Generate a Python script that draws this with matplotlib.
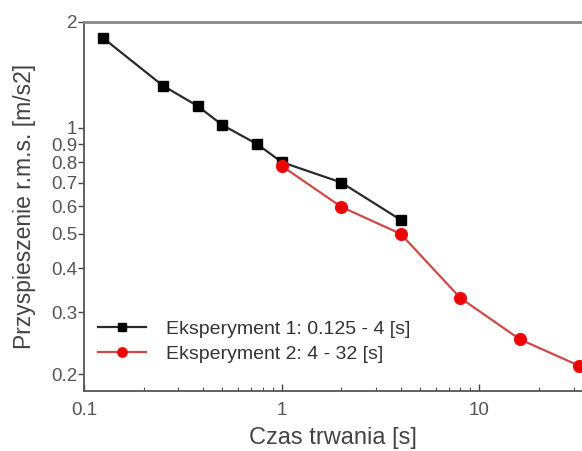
import matplotlib
matplotlib.use("Agg")
import matplotlib.pyplot as plt
from matplotlib.ticker import FixedLocator, FixedFormatter, NullFormatter, LogLocator

# Experiment 1: durations 0.125 - 4 s
t1 = [0.125, 0.25, 0.375, 0.5, 0.75, 1, 2, 4]
a1 = [1.80, 1.32, 1.155, 1.02, 0.90, 0.80, 0.70, 0.548]

# Experiment 2: durations 1 - 32 s
t2 = [1, 2, 4, 8, 16, 32]
a2 = [0.78, 0.597, 0.50, 0.329, 0.251, 0.211]

label1 = "Eksperyment 1: 0.125 - 4 [s]"
label2 = "Eksperyment 2: 4 - 32 [s]"

yticks = [0.2, 0.3, 0.4, 0.5, 0.6, 0.7, 0.8, 0.9, 1, 2]
ytick_labels = ["0.2", "0.3", "0.4", "0.5", "0.6", "0.7", "0.8", "0.9", "1", "2"]
xticks = [0.1, 1, 10]
xtick_labels = ["0.1", "1", "10"]

plt.rcParams['font.family'] = ['Liberation Sans', 'DejaVu Sans']

fig = plt.figure(figsize=(5.82, 4.51), dpi=100)
ax = fig.add_axes([84 / 582, 1 - 391 / 451, 1 - 84 / 582, (391 - 22) / 451])

ax.plot(t1, a1, color="#2a2a2a", lw=1.6, marker="s", ms=7.5,
        mfc="black", mec="black", label=label1, zorder=3)
ax.plot(t2, a2, color="#d04848", lw=1.6, marker="o", ms=8.5,
        mfc="#ee0000", mec="#ee1111", label=label2, zorder=4, clip_on=False)

ax.set_xscale("log")
ax.set_yscale("log")
ax.set_xlim(0.1, 33)
ax.set_ylim(0.179, 2)

ax.yaxis.set_major_locator(FixedLocator(yticks))
ax.yaxis.set_major_formatter(FixedFormatter(ytick_labels))
ax.yaxis.set_minor_locator(FixedLocator([]))
ax.yaxis.set_minor_formatter(NullFormatter())

ax.xaxis.set_major_locator(FixedLocator(xticks))
ax.xaxis.set_major_formatter(FixedFormatter(xtick_labels))
ax.xaxis.set_minor_locator(LogLocator(base=10, subs=range(2, 10)))
ax.xaxis.set_minor_formatter(NullFormatter())

tick_color = "#555555"
ax.tick_params(axis="y", which="major", direction="out", length=4, width=1,
               colors="#444444", labelcolor=tick_color, labelsize=13.5, pad=1)
ax.tick_params(axis="x", which="major", direction="in", length=5, width=1,
               colors="#444444", labelcolor=tick_color, labelsize=13.5, pad=8)
ax.tick_params(axis="x", which="minor", direction="in", length=3, width=0.8,
               colors="#555555")

for side in ["left", "bottom"]:
    ax.spines[side].set_color("#555555")
    ax.spines[side].set_linewidth(1.3)
ax.spines["top"].set_color("#888888")
ax.spines["top"].set_linewidth(2)
ax.spines["right"].set_visible(False)

ax.set_xlabel("Czas trwania [s]", fontsize=17, color="#444444")
ax.xaxis.set_label_coords(0.5, -0.098)
ax.set_ylabel("Przyspieszenie r.m.s. [m/s2]", fontsize=16.5, color="#444444")
ax.yaxis.set_label_coords(-0.097, 0.5)

leg = ax.legend(loc="lower left", bbox_to_anchor=(0.0, 0.04), frameon=False,
                fontsize=14, handlelength=2.5, handletextpad=1.0,
                labelspacing=0.35, borderaxespad=0.3, markerscale=0.8)
for txt in leg.get_texts():
    txt.set_color("#333333")

fig.savefig("out.png", dpi=100, facecolor="white")
